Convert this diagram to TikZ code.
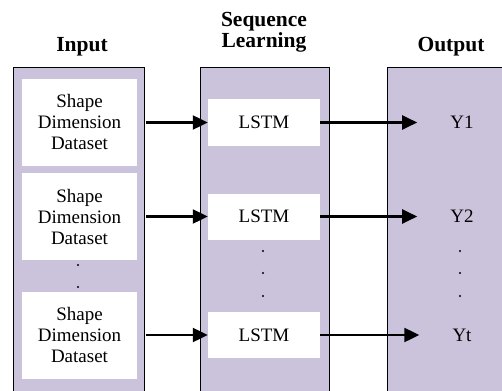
\documentclass[tikz,border=0pt]{standalone}
\usepackage{fontspec}
\setmainfont{Liberation Serif}
\usetikzlibrary{positioning,arrows.meta}
\definecolor{lavender}{HTML}{CBC3DC}

\begin{document}
\begin{tikzpicture}[
    x=1pt, y=-1pt,
    every node/.style = {
      align=center,
      font=\fontsize{19}{21}\selectfont
    },
    panel/.style = {fill=lavender, draw=black, line width=0.8pt,
      anchor=north west, minimum height=340pt, inner sep=0pt},
    databox/.style = {fill=white, minimum width=115pt,
      minimum height=87pt, inner sep=0pt},
    cellbox/.style = {fill=white, minimum width=112pt,
      minimum height=46pt, inner sep=0pt},
    title/.style = {font=\fontsize{21.5}{21}\selectfont\bfseries, inner sep=0pt},
    outlabel/.style = {inner sep=0pt},
    dot/.style = {circle, fill=black, inner sep=0pt, minimum size=2.2pt},
    flow/.style = {line width=2.2pt, -{Triangle[length=15pt,width=14pt]}}
  ]
  \useasboundingbox (0,0) rectangle (502,390);
  % the three columns
  \node[panel, minimum width=131pt] (inpanel) at (13,67) {};
  \node[panel, minimum width=129pt] (seqpanel) at (200,67) {};
  \node[panel, minimum width=130pt] (outpanel) at (387,67) {};

  \node[title] (intitle) at (82,47) {Input};
  \node[title] (seqtitle) at (264,32) {Sequence\\Learning};
  \node[title] (outtitle) at (451,47) {Output};

  % input data
  \node[databox] (data1) at (79.5,122.5) {Shape\\Dimension\\Dataset};
  \node[databox] (data2) at (79.5,216.5) {Shape\\Dimension\\Dataset};
  \node[databox] (data3) at (79.5,335) {Shape\\Dimension\\Dataset};

  % lstm cells
  \node[cellbox] (lstm1) at (264,122.5) {LSTM};
  \node[cellbox] (lstm2) at (264,216.5) {LSTM};
  \node[cellbox] (lstm3) at (264,335) {LSTM};

  % outputs
  \node[outlabel] (y1) at (462,122.5) {Y1};
  \node[outlabel] (y2) at (462,216.5) {Y2};
  \node[outlabel] (yt) at (462,335) {Yt};

  % dots between rows
  \foreach \y [count=\i] in {265,287}
    \node[dot] (indot\i) at (78,\y) {};
  \foreach \y [count=\i] in {251,273,296} {
    \node[dot] (seqdot\i) at (263,\y) {};
    \node[dot] (outdot\i) at (460,\y) {};
  }

  % arrows
  \foreach \row/\out in {1/y1,2/y2,3/yt} {
    \draw[flow, shorten <=9pt] (data\row) -- (lstm\row);
    \draw[flow, shorten >=33pt] (lstm\row) -- (\out);
  }
\end{tikzpicture}
\end{document}
